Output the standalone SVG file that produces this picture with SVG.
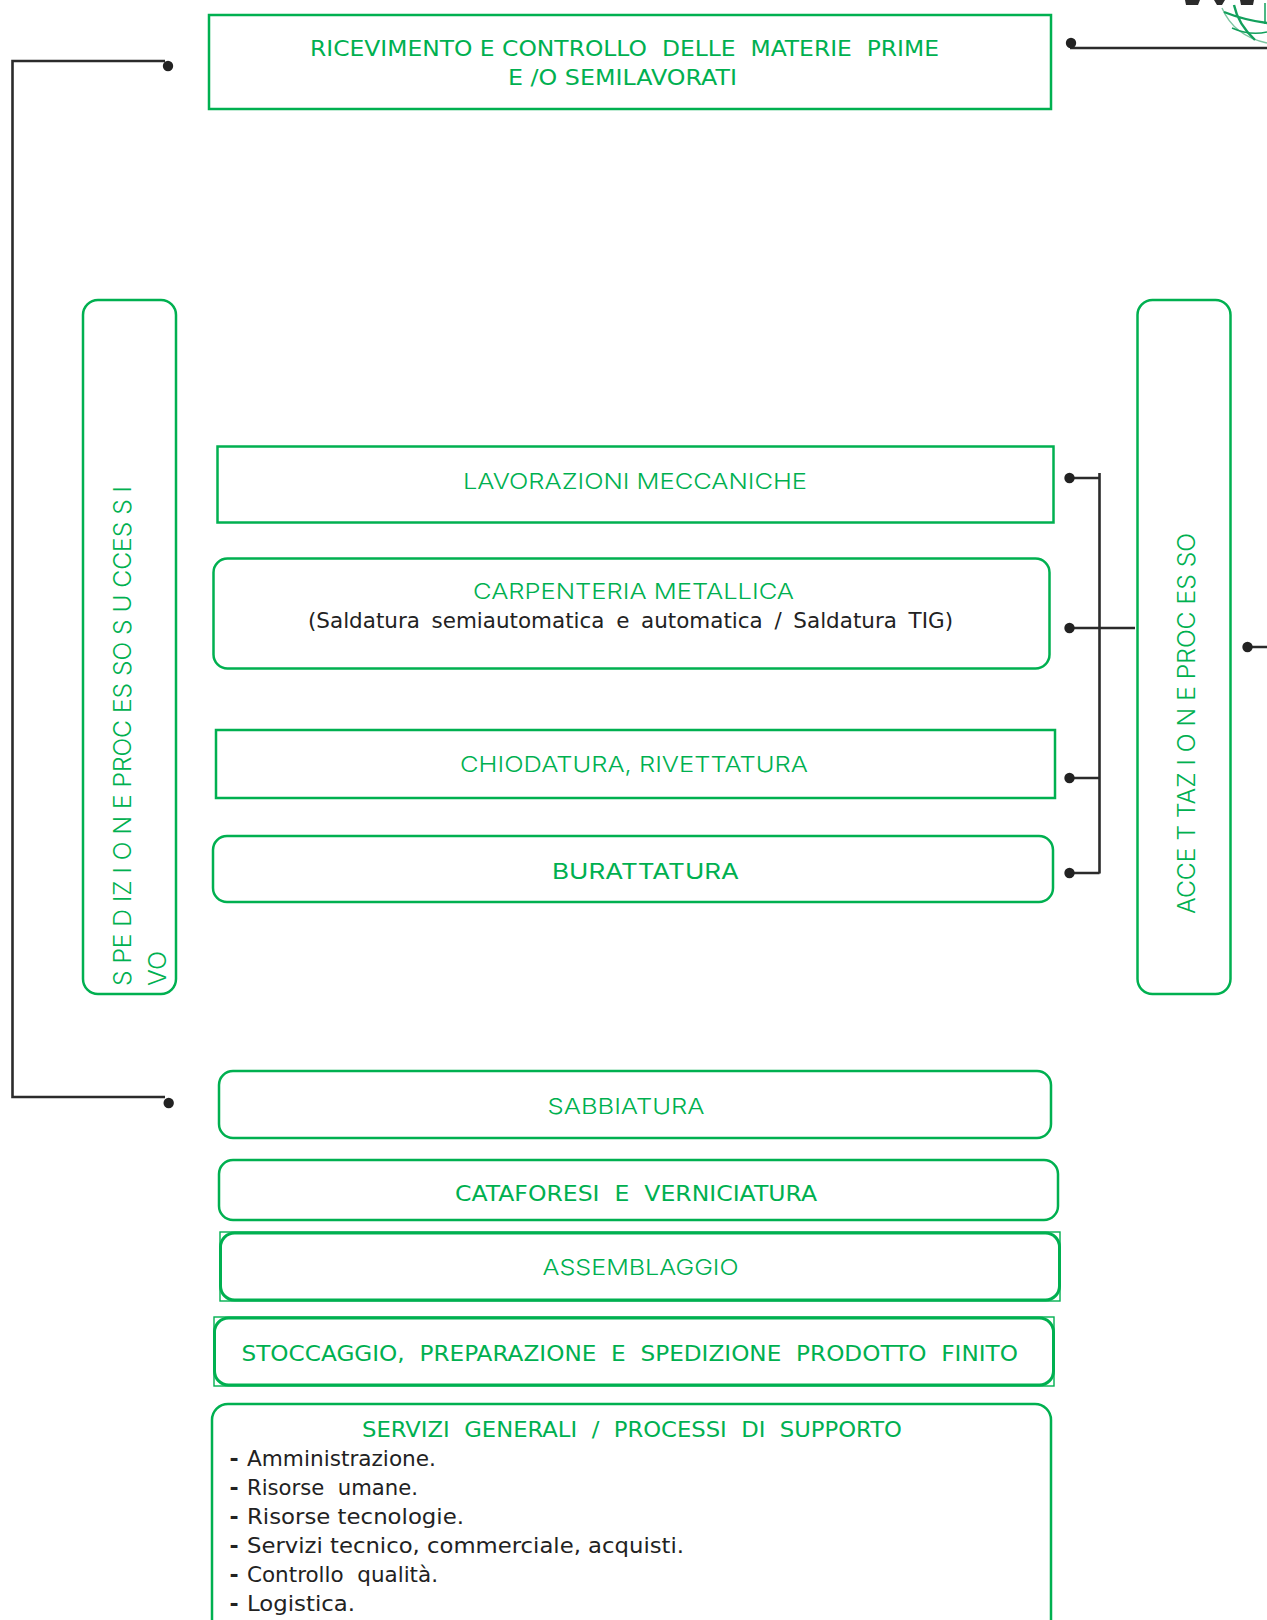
<svg xmlns="http://www.w3.org/2000/svg" width="1267" height="1620" viewBox="0 0 1267 1620">
<style>
.b{fill:none;stroke:#00b050;stroke-width:2.5}
.t{font-family:"DejaVu Sans","Liberation Sans",sans-serif;font-size:22px;fill:#00b050}
.m{font-family:Inter,"Liberation Sans",sans-serif;font-size:22px;font-weight:300;fill:#00b050}
.r{font-size:24px}
.k{font-family:"DejaVu Sans","Liberation Sans",sans-serif;font-size:22px;fill:#222}
.h{font-family:"DejaVu Sans","Liberation Sans",sans-serif;font-size:22px;font-weight:700;fill:#222}
.c{fill:none;stroke:#2b2b2b;stroke-width:2.6}
.d{fill:#222}
</style>
<rect width="1267" height="1620" fill="#fff"/>
<g id="logo">
<path d="M1185 0h15l-2 5h-12zM1214 0h11l-3 5h-5zM1240 0h14l-1 5h-12z" fill="#2b2b2b"/>
<path d="M1222 8Q1234 36 1267 43" fill="none" stroke="#7cc4a0" stroke-width="1.4"/>
<path d="M1224 12Q1244 20 1267 23M1234 5Q1238 24 1255 40" fill="none" stroke="#12a05c" stroke-width="2.4"/>
<path d="M1232 28Q1250 36 1267 32M1265 3V24" fill="none" stroke="#12a05c" stroke-width="1.5"/>
</g>
<g id="connectors">
<path class="c" d="M165 61H12.5V1097H165"/>
<path class="c" d="M1070 48H1267"/>
<path class="c" d="M1070 478H1099.5M1099.5 473V873.500M1070 873H1099.5M1070 778H1099.5M1070 628H1135M1247 647H1267"/>
<circle class="d" cx="168" cy="66" r="5.2"/>
<circle class="d" cx="168.700" cy="1103" r="5.2"/>
<circle class="d" cx="1071" cy="43" r="5.2"/>
<circle class="d" cx="1069.500" cy="478" r="5.2"/>
<circle class="d" cx="1069.500" cy="628" r="5.2"/>
<circle class="d" cx="1069.500" cy="778" r="5.2"/>
<circle class="d" cx="1069.500" cy="873" r="5.2"/>
<circle class="d" cx="1247.500" cy="647" r="5.2"/>
</g>
<g id="ricevimento">
<rect class="b" x="209" y="15" width="842" height="94"/>
<text class="t" x="310" y="56" textLength="629" lengthAdjust="spacingAndGlyphs" xml:space="preserve">RICEVIMENTO E CONTROLLO  DELLE  MATERIE  PRIME</text>
<text class="t" x="508" y="85" textLength="229" lengthAdjust="spacingAndGlyphs">E /O SEMILAVORATI</text>
</g>
<g id="spedizione">
<rect class="b" x="83" y="300" width="93" height="694" rx="15"/>
<text class="m r" transform="translate(131 986) rotate(-90)" textLength="500" lengthAdjust="spacingAndGlyphs">S PE D IZ I O N E PROC ES SO S U CCES S I</text>
<text class="m r" transform="translate(166 986) rotate(-90)" textLength="35" lengthAdjust="spacingAndGlyphs">VO</text>
</g>
<g id="accettazione">
<rect class="b" x="1137.500" y="300" width="93" height="694" rx="15"/>
<text class="m r" transform="translate(1195 914) rotate(-90)" textLength="381" lengthAdjust="spacingAndGlyphs">ACCE T TAZ I O N E PROC ES SO</text>
</g>
<g id="lavorazioni">
<rect class="b" x="217.500" y="446.500" width="836" height="76"/>
<text class="m" x="463" y="489" textLength="344" lengthAdjust="spacingAndGlyphs">LAVORAZIONI MECCANICHE</text>
</g>
<g id="carpenteria">
<rect class="b" x="213.500" y="558.500" width="836" height="110" rx="14"/>
<text class="m" x="473" y="599" textLength="321" lengthAdjust="spacingAndGlyphs">CARPENTERIA METALLICA</text>
<text class="k" x="308" y="628" textLength="645" lengthAdjust="spacingAndGlyphs" style="word-spacing:5px">(Saldatura semiautomatica e automatica / Saldatura TIG)</text>
</g>
<g id="chiodatura">
<rect class="b" x="216" y="730" width="839" height="68"/>
<text class="m" x="460" y="772" textLength="348" lengthAdjust="spacingAndGlyphs">CHIODATURA, RIVETTATURA</text>
</g>
<g id="burattatura">
<rect class="b" x="213" y="836" width="840" height="66" rx="14"/>
<text class="m" style="font-weight:400" x="552" y="879" textLength="187" lengthAdjust="spacingAndGlyphs">BURATTATURA</text>
</g>
<g id="sabbiatura">
<rect class="b" x="219" y="1071" width="832" height="67" rx="14"/>
<text class="m" x="547.500" y="1114" textLength="157" lengthAdjust="spacingAndGlyphs">SABBIATURA</text>
</g>
<g id="cataforesi">
<rect class="b" x="219" y="1160" width="839" height="60" rx="14"/>
<text class="t" x="455" y="1201" textLength="362" lengthAdjust="spacingAndGlyphs" xml:space="preserve">CATAFORESI  E  VERNICIATURA</text>
</g>
<g id="assemblaggio">
<rect x="220" y="1232" width="840" height="69" fill="none" stroke="#00b050" stroke-width="1.4"/>
<rect class="b" style="stroke-width:3" x="220.500" y="1233" width="839" height="67" rx="14"/>
<text class="m" x="542.500" y="1275" textLength="196" lengthAdjust="spacingAndGlyphs">ASSEMBLAGGIO</text>
</g>
<g id="stoccaggio">
<rect x="214" y="1317" width="840" height="69" fill="none" stroke="#00b050" stroke-width="1.4"/>
<rect class="b" style="stroke-width:3" x="214.500" y="1318" width="839" height="67" rx="14"/>
<text class="t" x="241.500" y="1361" textLength="776.500" lengthAdjust="spacingAndGlyphs" xml:space="preserve">STOCCAGGIO,  PREPARAZIONE  E  SPEDIZIONE  PRODOTTO  FINITO</text>
</g>
<g id="servizi">
<rect class="b" x="212" y="1404" width="839" height="240" rx="16"/>
<text class="t" x="362" y="1437" textLength="540" lengthAdjust="spacingAndGlyphs" xml:space="preserve">SERVIZI  GENERALI  /  PROCESSI  DI  SUPPORTO</text>
<text class="h" x="229.500" y="1466">-</text><text class="k" x="247" y="1466" textLength="189" lengthAdjust="spacingAndGlyphs">Amministrazione.</text>
<text class="h" x="229.500" y="1495">-</text><text class="k" x="247" y="1495" textLength="171" lengthAdjust="spacingAndGlyphs" xml:space="preserve">Risorse  umane.</text>
<text class="h" x="229.500" y="1524">-</text><text class="k" x="247" y="1524" textLength="217" lengthAdjust="spacingAndGlyphs">Risorse tecnologie.</text>
<text class="h" x="229.500" y="1553">-</text><text class="k" x="247" y="1553" textLength="437" lengthAdjust="spacingAndGlyphs">Servizi tecnico, commerciale, acquisti.</text>
<text class="h" x="229.500" y="1582">-</text><text class="k" x="247" y="1582" textLength="191" lengthAdjust="spacingAndGlyphs" xml:space="preserve">Controllo  qualità.</text>
<text class="h" x="229.500" y="1611">-</text><text class="k" x="247" y="1611" textLength="108" lengthAdjust="spacingAndGlyphs">Logistica.</text>
</g>
</svg>
